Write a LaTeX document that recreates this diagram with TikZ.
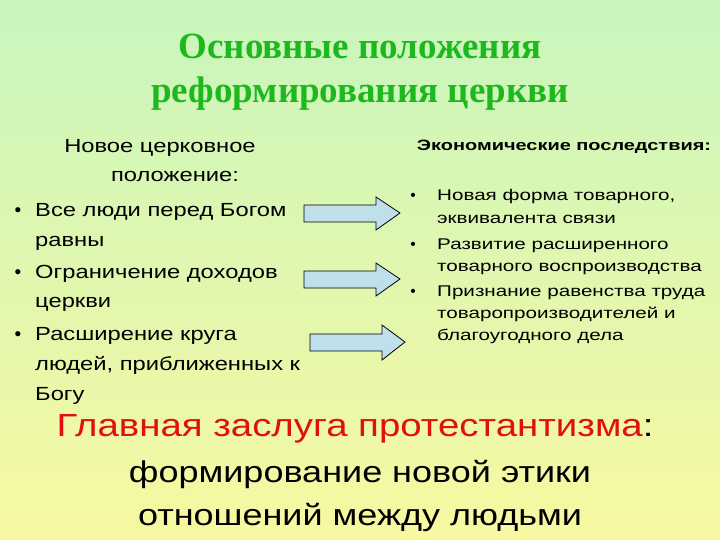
\documentclass[tikz,border=0pt]{standalone}
\usepackage{fontspec}
\setmainfont{Liberation Sans}
\newfontfamily\titlefont{Liberation Serif}
\newfontfamily\wideL[FakeStretch=1.25]{Liberation Sans}
\newfontfamily\wideR[FakeStretch=1.33]{Liberation Sans}
\newfontfamily\wideB[FakeStretch=1.2]{Liberation Sans}
\begin{document}
\begin{tikzpicture}[x=1pt,y=-1pt,
  txt/.style={inner sep=0pt,anchor=base west,font=\wideL\fontsize{19}{22}\selectfont},
  rtxt/.style={inner sep=0pt,anchor=base west,font=\wideR\fontsize{15.5}{18}\selectfont},
  arr/.style={draw=black,fill=arrowblue,line width=0.8pt}]
\definecolor{arrowblue}{HTML}{BFE0EA}
\definecolor{titlegreen}{HTML}{1DB81D}
\definecolor{redt}{HTML}{E01010}
\shade[top color={rgb,255:red,200;green,246;blue,190}, bottom color={rgb,255:red,248;green,248;blue,160}] (0,0) rectangle (720,540);
\useasboundingbox (0,0) rectangle (720,540);
\node[font=\titlefont\bfseries\fontsize{37}{44}\selectfont,text=titlegreen,align=center,inner sep=0pt] (title) at (360,72) {Основные положения\\реформирования церкви};
% left column
\node[txt,anchor=base,font=\wideL\fontsize{19}{22}\selectfont] (l0) at (160,153) {Новое церковное};
\node[txt,anchor=base,font=\wideL\fontsize{19}{22}\selectfont] (l1) at (175,182) {положение:};
\foreach \y/\t [count=\i] in {217/Все люди перед Богом, 246/равны, 278/Ограничение доходов, 307/церкви, 340/Расширение круга, 370/людей{,} приближенных к, 400/Богу}{
  \node[txt] (lt\i) at (35,\y) {\t};}
\foreach \y in {217,278,340}{\node[font=\fontsize{19}{22}\selectfont,inner sep=0pt,anchor=base] at (18,\y) {•};}
% right column
\node[rtxt,anchor=base,font=\wideR\bfseries\fontsize{15}{18}\selectfont] (r0) at (564,151) {Экономические последствия:};
\foreach \y/\t [count=\i] in {201/Новая форма товарного{,}, 223/эквивалента связи, 249/Развитие расширенного, 271/товарного воспроизводства, 296/Признание равенства труда, 318/товаропроизводителей и, 340/благоугодного дела}{
  \node[rtxt] (rt\i) at (437,\y) {\t};}
\foreach \y in {201,249,296}{\node[font=\fontsize{15.5}{18}\selectfont,inner sep=0pt,anchor=base] at (413,\y) {•};}
% arrows
\draw[arr] (304,205) -- (376,205) -- (376,197) -- (400,213) -- (376,230) -- (376,222) -- (304,222) -- cycle;
\draw[arr] (304,271) -- (376,271) -- (376,263) -- (400,279) -- (376,296) -- (376,288) -- (304,288) -- cycle;
\draw[arr] (310,334) -- (382,334) -- (382,325) -- (405,342) -- (382,360) -- (382,351) -- (310,351) -- cycle;
% bottom
\node[inner sep=0pt,anchor=base,font=\wideB\fontsize{32}{36}\selectfont] (m0) at (355,436) {\textcolor{redt}{Главная заслуга протестантизма}:};
\node[inner sep=0pt,anchor=base,font=\wideB\fontsize{30}{34}\selectfont] (m1) at (360,482) {формирование новой этики};
\node[inner sep=0pt,anchor=base,font=\wideB\fontsize{30}{34}\selectfont] (m2) at (360,525) {отношений между людьми};
\end{tikzpicture}
\end{document}
